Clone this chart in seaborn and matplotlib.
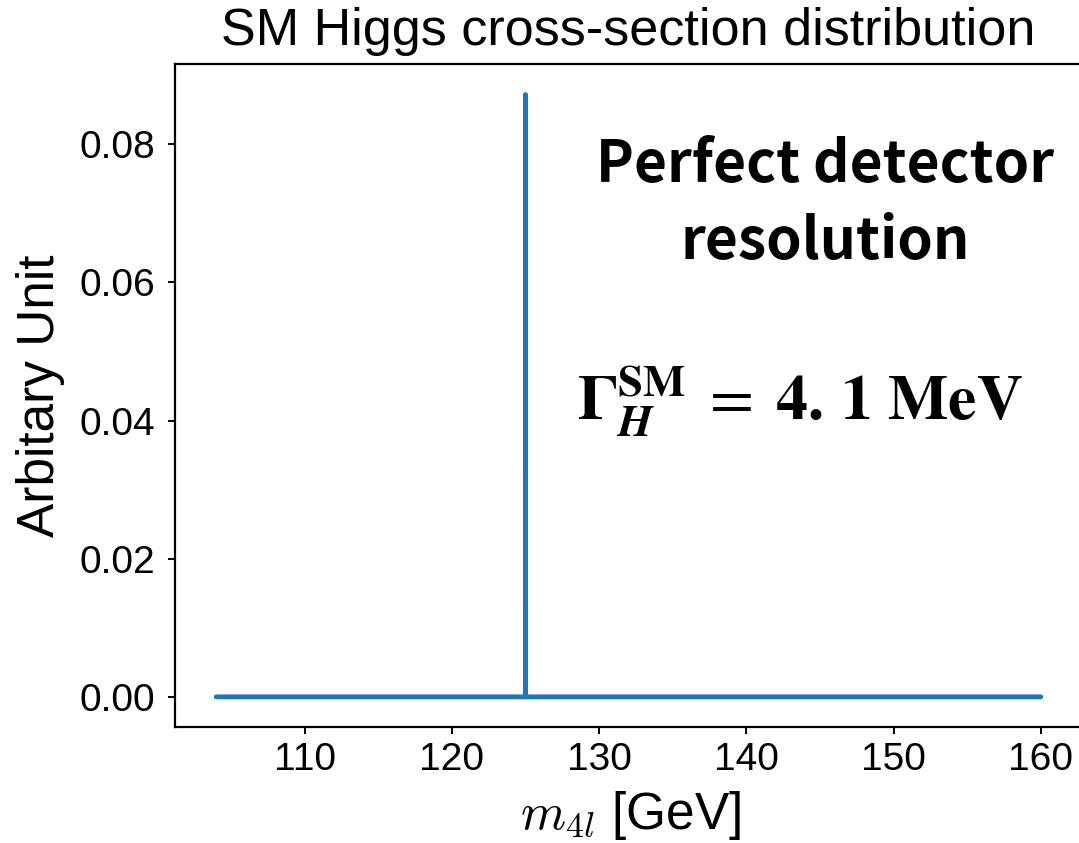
import matplotlib
matplotlib.use("Agg")
import matplotlib.pyplot as plt
import seaborn as sns
import pandas as pd

# Invariant-mass grid (GeV) and the normalised cross-section at each point
mass_gev = [104.0, 124.998, 125.0, 125.002, 160.0]
arb_unit = [0.0, 0.0, 0.0872, 0.0, 0.0]
x_ticks = [110, 120, 130, 140, 150, 160]
y_ticks = [0.00, 0.02, 0.04, 0.06, 0.08]

sns.set_theme(style="ticks")
plt.rcParams["font.family"] = ["Liberation Sans", "DejaVu Sans"]
plt.rcParams["mathtext.fontset"] = "cm"
plt.rcParams["axes.linewidth"] = 1.6
plt.rcParams["xtick.major.width"] = 1.4
plt.rcParams["ytick.major.width"] = 1.4
plt.rcParams["xtick.major.size"] = 5
plt.rcParams["ytick.major.size"] = 5
plt.rcParams["axes.edgecolor"] = "black"

df = pd.DataFrame({"m4l": mass_gev, "au": arb_unit})

fig = plt.figure(figsize=(10.79, 8.43), dpi=100)
ax = fig.add_axes([0.1622, 0.1376, 0.8406, 0.786])

sns.lineplot(data=df, x="m4l", y="au", ax=ax, sort=False, estimator=None,
             color="#1f77b4", linewidth=3.5)

ax.set_xticks(x_ticks)
ax.set_yticks(y_ticks)
ax.set_xticklabels([str(t) for t in x_ticks], fontsize=28)
ax.set_yticklabels([f"{t:.2f}" for t in y_ticks], fontsize=28)
ax.tick_params(axis="y", colors="black", pad=9)
ax.tick_params(axis="x", colors="black", pad=6)

ax.set_xlabel(r"$m_{4l}$ [GeV]", fontsize=37, color="black")
ax.xaxis.set_label_coords(0.502, -0.094)
ax.set_ylabel("Arbitary Unit", fontsize=37, color="black", labelpad=11)
ax.set_title("SM Higgs cross-section distribution", fontsize=37.5,
             color="black", pad=14)

ax.text(0.717, 0.79, "Perfect detector\nresolution", transform=ax.transAxes,
        ha="center", va="center", fontsize=41, fontweight="bold",
        family=["Noto Sans CJK SC", "DejaVu Sans"], linespacing=1.4,
        color="black")
ax.text(0.443, 0.49,
        r"$\mathbf{\Gamma}_{\mathbfit{H}}^{\mathbf{SM}}\;=\;\mathbf{4.\,1\ MeV}$",
        transform=ax.transAxes, ha="left", va="center", fontsize=46,
        math_fontfamily="stix", color="black")

fig.savefig("out.png", dpi=100)
